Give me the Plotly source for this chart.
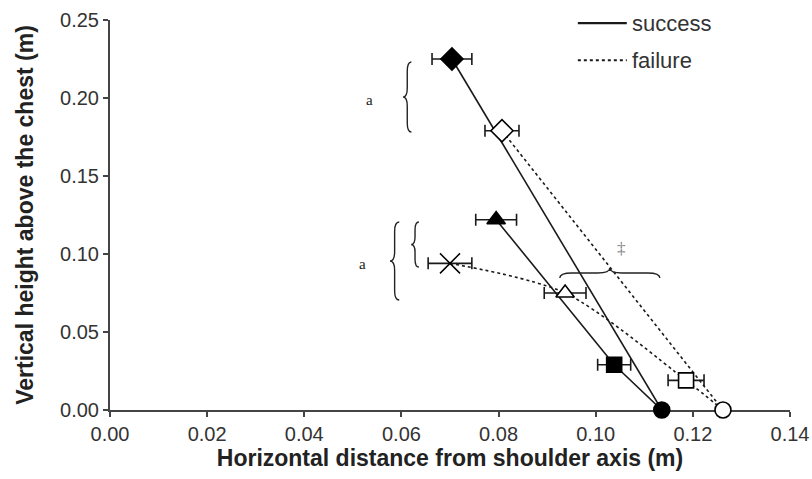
import plotly.graph_objects as go

# ---- data ----
point_names = ["succ_diamond", "fail_diamond", "succ_triangle", "fail_cross",
               "fail_triangle", "succ_square", "fail_square", "succ_circle", "fail_circle"]
point_x = [0.0704, 0.0807, 0.0795, 0.0700, 0.0937, 0.1038, 0.1186, 0.1136, 0.1262]
point_y = [0.225, 0.179, 0.122, 0.094, 0.075, 0.029, 0.019, 0.0, 0.0]
point_xerr = [0.0041, 0.0035, 0.0042, 0.0045, 0.0043, 0.0034, 0.0037, 0.0, 0.0]
point_symbol = ["diamond", "diamond", "triangle-up", "x-thin-open",
                "triangle-up", "square", "square", "circle", "circle"]
point_filled = [True, False, True, True, False, True, False, True, False]

success_paths = [["succ_diamond", "succ_circle"],
                 ["succ_triangle", "succ_square", "succ_circle"]]
failure_paths = [["fail_diamond", "fail_circle"],
                 ["fail_cross", "fail_triangle", "fail_square", "fail_circle"]]

legend_labels = ["success", "failure"]
legend_dashes = ["solid", "dot"]

x_ticks = [0.00, 0.02, 0.04, 0.06, 0.08, 0.10, 0.12, 0.14]
y_ticks = [0.00, 0.05, 0.10, 0.15, 0.20, 0.25]

SANS = "Liberation Sans, Arial, sans-serif"
idx = {n: i for i, n in enumerate(point_names)}
fig = go.Figure()

def add_paths(paths, name, dash, shape):
    for p in paths:
        fig.add_trace(go.Scatter(
            x=[point_x[idx[n]] for n in p], y=[point_y[idx[n]] for n in p],
            mode="lines", name=name, showlegend=False,
            line=dict(color="#1a1a1a", width=1.6, dash=dash, shape=shape, smoothing=0.8),
            cliponaxis=False, hoverinfo="skip"))

add_paths(success_paths, "success", "solid", "linear")
add_paths(failure_paths, "failure", "dot", "spline")

sizes = {"diamond": 17, "triangle-up": 16, "x-thin-open": 20, "square": 15, "circle": 16}
for i, n in enumerate(point_names):
    sym = point_symbol[i]
    fig.add_trace(go.Scatter(
        x=[point_x[i]], y=[point_y[i]], mode="markers", showlegend=False,
        error_x=dict(type="data", array=[point_xerr[i]], visible=point_xerr[i] > 0,
                     color="#1a1a1a", thickness=1.6, width=6),
        marker=dict(symbol=sym, size=sizes[sym],
                    color="#000000" if point_filled[i] else "#ffffff",
                    line=dict(color="#000000", width=1.6 if sym != "x-thin-open" else 1.5)),
        cliponaxis=False, name=n))

# ---- legend (drawn in paper coordinates) ----
legend_y = [0.992, 0.897]
for lab, dash, ly in zip(legend_labels, legend_dashes, legend_y):
    fig.add_shape(type="line", xref="paper", yref="paper", x0=0.688, x1=0.760, y0=ly, y1=ly,
                  line=dict(color="#1a1a1a", width=2.2 if dash == "solid" else 2.0, dash=dash))
    fig.add_annotation(xref="paper", yref="paper", x=0.765, y=ly, text=lab, showarrow=False,
                       xanchor="left", yanchor="middle",
                       font=dict(family=SANS, size=22, color="#333"))

# ---- braces (annotations) ----
def vbrace(x, y_top, y_bot, w=0.0017, r=0.006):
    ym = (y_top + y_bot) / 2
    return (f"M {x + w/2},{y_top} Q {x},{y_top} {x},{y_top - r} "
            f"L {x},{ym + r} Q {x},{ym} {x - w/2},{ym} "
            f"Q {x},{ym} {x},{ym - r} L {x},{y_bot + r} Q {x},{y_bot} {x + w/2},{y_bot}")

def hbrace(x0, x1, xm, y, h=0.0064, r=0.0025):
    return (f"M {x0},{y - h/2} Q {x0},{y} {x0 + r},{y} "
            f"L {xm - r},{y} Q {xm},{y} {xm},{y + h/2} "
            f"Q {xm},{y} {xm + r},{y} L {x1 - r},{y} Q {x1},{y} {x1},{y - h/2}")

brace_style = dict(type="path", xref="x", yref="y", line=dict(color="#222", width=1.4))
fig.add_shape(path=vbrace(0.0612, 0.2231, 0.1782), **brace_style)
fig.add_shape(path=vbrace(0.0586, 0.1205, 0.0705, w=0.0019), **brace_style)
fig.add_shape(path=vbrace(0.0628, 0.1205, 0.0917, w=0.0016, r=0.005), **brace_style)
fig.add_shape(path=hbrace(0.0926, 0.1132, 0.1029, 0.0878), **brace_style)

ann_font = dict(family="Liberation Serif, Times New Roman, serif", size=15, color="#222")
fig.add_annotation(x=0.0535, y=0.1987, text="a", showarrow=False, font=ann_font)
fig.add_annotation(x=0.0520, y=0.0936, text="a", showarrow=False, font=ann_font)
fig.add_annotation(x=0.1053, y=0.1038, text="‡", showarrow=False,
                   font=dict(family="Liberation Serif, serif", size=17, color="#808080"))

axis_common = dict(showgrid=False, zeroline=False, showline=True, linecolor="#444",
                   linewidth=2, ticks="outside", ticklen=5, tickwidth=1.5,
                   tickcolor="#444", layer="below traces",
                   tickfont=dict(family=SANS, size=20, color="#333"))

fig.update_layout(
    width=812, height=479,
    margin=dict(l=110, r=22, t=20, b=69),
    paper_bgcolor="white", plot_bgcolor="white",
    xaxis=dict(range=[0, 0.14], tickvals=x_ticks, ticktext=[f"{v:.2f}" for v in x_ticks],
               title=dict(text="<b>Horizontal distance from shoulder axis (m)</b>",
                          font=dict(family=SANS, size=23, color="#222"), standoff=6),
               automargin=False, **axis_common),
    yaxis=dict(range=[0, 0.25], tickvals=y_ticks, ticktext=[f"{v:.2f}" for v in y_ticks],
               title=dict(text="<b>Vertical height above the chest (m)</b>",
                          font=dict(family=SANS, size=23, color="#222"), standoff=20),
               automargin=False, **axis_common),
    showlegend=False,
)

fig.write_html("out.html")
